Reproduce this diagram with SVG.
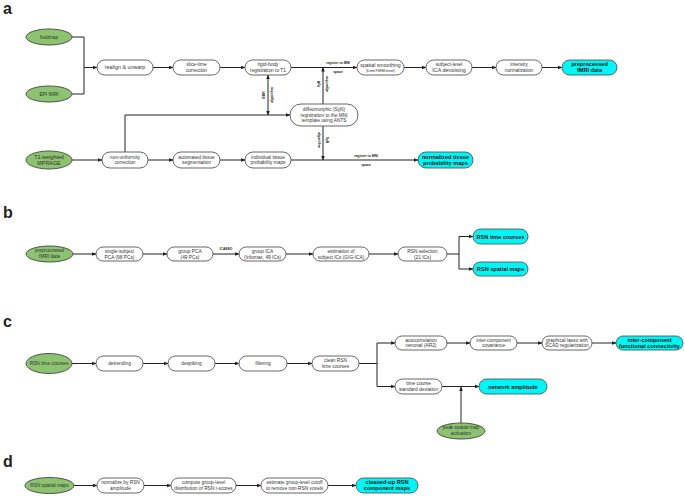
<svg xmlns="http://www.w3.org/2000/svg" width="685" height="500" viewBox="0 0 685 500">
<defs>
<style>
.bg{fill:#fff}
.box{fill:#fff;stroke:#555;stroke-width:0.9}
.out{fill:#00f6f6;stroke:#555;stroke-width:0.9}
.src{fill:#8cc270;stroke:#444;stroke-width:0.9}
.t{font-family:"Liberation Sans",Arial,sans-serif;font-size:4.8px;fill:#333;text-anchor:middle}
.tb{font-family:"Liberation Sans",Arial,sans-serif;font-size:5.6px;font-weight:bold;fill:#111;text-anchor:middle}
.ts{font-family:"Liberation Sans",Arial,sans-serif;font-size:3.4px;fill:#222;text-anchor:middle}
.tl{font-family:"Liberation Sans",Arial,sans-serif;font-size:3.4px;font-weight:bold;fill:#222;text-anchor:middle}
.hd{font-family:"Liberation Sans",Arial,sans-serif;font-size:16px;font-weight:bold;fill:#222}
.c{fill:none;stroke:#222;stroke-width:1}
</style>
<marker id="ah" viewBox="0 0 10 10" refX="9" refY="5" markerWidth="4.5" markerHeight="4.5" orient="auto"><path d="M0,1 L10,5 L0,9 Z" fill="#222"/></marker>
<marker id="as" viewBox="0 0 10 10" refX="1" refY="5" markerWidth="4.5" markerHeight="4.5" orient="auto"><path d="M10,1 L0,5 L10,9 Z" fill="#222"/></marker>
</defs>
<rect class="bg" width="685" height="500"/>

<text class="hd" x="3" y="14">a</text>
<text class="hd" x="3" y="218">b</text>
<text class="hd" x="3" y="327">c</text>
<text class="hd" x="3" y="467">d</text>

<g id="connectors">
<!-- panel a -->
<path class="c" d="M72,37 H84 V94 H72"/>
<path class="c" d="M84,67.5 H97" marker-end="url(#ah)"/>
<path class="c" d="M153,67.5 H173" marker-end="url(#ah)"/>
<path class="c" d="M220,67.5 H245" marker-end="url(#ah)"/>
<path class="c" d="M291,67.5 H357" marker-end="url(#ah)"/>
<path class="c" d="M404,67.5 H426" marker-end="url(#ah)"/>
<path class="c" d="M472,67.5 H496" marker-end="url(#ah)"/>
<path class="c" d="M542,67.5 H562" marker-end="url(#ah)"/>
<path class="c" d="M72,160 H102" marker-end="url(#ah)"/>
<path class="c" d="M148,160 H173" marker-end="url(#ah)"/>
<path class="c" d="M220,160 H245" marker-end="url(#ah)"/>
<path class="c" d="M291,160 H418" marker-end="url(#ah)"/>
<path class="c" d="M125,152 V115 H290" marker-end="url(#ah)"/>
<path class="c" d="M268,75 V115" marker-start="url(#as)" marker-end="url(#ah)"/>
<path class="c" d="M323,104 V67.5" marker-end="url(#ah)"/>
<path class="c" d="M323,126 V160" marker-end="url(#ah)"/>
<!-- panel b -->
<path class="c" d="M73,254 H96" marker-end="url(#ah)"/>
<path class="c" d="M143,254 H167" marker-end="url(#ah)"/>
<path class="c" d="M213,254 H239" marker-end="url(#ah)"/>
<path class="c" d="M286,254 H313" marker-end="url(#ah)"/>
<path class="c" d="M369,254 H398" marker-end="url(#ah)"/>
<path class="c" d="M447,254 H459 M459,236.5 V269"/>
<path class="c" d="M459,236.5 H473" marker-end="url(#ah)"/>
<path class="c" d="M459,269 H473" marker-end="url(#ah)"/>
<!-- panel c -->
<path class="c" d="M72,363.5 H96" marker-end="url(#ah)"/>
<path class="c" d="M143,363.5 H168" marker-end="url(#ah)"/>
<path class="c" d="M215,363.5 H239" marker-end="url(#ah)"/>
<path class="c" d="M287,363.5 H312" marker-end="url(#ah)"/>
<path class="c" d="M359,363.5 H377 M377,343 V386.5"/>
<path class="c" d="M377,343 H395" marker-end="url(#ah)"/>
<path class="c" d="M377,386.5 H395" marker-end="url(#ah)"/>
<path class="c" d="M447,343 H470" marker-end="url(#ah)"/>
<path class="c" d="M517,343 H542" marker-end="url(#ah)"/>
<path class="c" d="M592,343 H616" marker-end="url(#ah)"/>
<path class="c" d="M442,386.5 H479" marker-end="url(#ah)"/>
<path class="c" d="M461,423 V387" marker-end="url(#ah)"/>
<!-- panel d -->
<path class="c" d="M74,485.5 H97" marker-end="url(#ah)"/>
<path class="c" d="M144,485.5 H171" marker-end="url(#ah)"/>
<path class="c" d="M236,485.5 H261" marker-end="url(#ah)"/>
<path class="c" d="M328,485.5 H356" marker-end="url(#ah)"/>
</g>

<g id="connector-labels">
<text class="tl" x="338" y="64">register to MNI</text>
<text class="tl" x="338" y="73">space</text>
<text class="tl" x="366" y="157">register to MNI</text>
<text class="tl" x="366" y="166">space</text>
<text class="tl" transform="translate(265,95) rotate(-90)">BBR</text>
<text class="tl" transform="translate(273,95) rotate(-90)">algorithm</text>
<text class="tl" transform="translate(320,84) rotate(-90)">SyN</text>
<text class="tl" transform="translate(328,84) rotate(-90)">algorithm</text>
<text class="tl" transform="translate(318,140) rotate(90)">algorithm</text>
<text class="tl" transform="translate(326,140) rotate(90)">SyN</text>
<text class="tl" x="226" y="250">ICASSO</text>
</g>

<!-- panel a nodes -->
<g id="fieldmap"><ellipse class="src" cx="49" cy="37" rx="23" ry="8"/><text class="t" x="49" y="38.7">fieldmap</text></g>
<g id="epi-fmri"><ellipse class="src" cx="49" cy="94" rx="23" ry="8"/><text class="t" x="49" y="95.7">EPI fMRI</text></g>
<g id="t1-mprage"><ellipse class="src" cx="49" cy="160" rx="23" ry="9"/><text class="t" style="font-size:5.4px" x="49" y="158.5">T1-weighted</text><text class="t" style="font-size:5.4px" x="49" y="164.8">MPRAGE</text></g>
<g id="realign"><rect class="box" x="97" y="60" width="56" height="15" rx="7.5"/><text class="t" style="font-size:5.4px" x="125" y="69.4">realign &amp; unwarp</text></g>
<g id="slice-time"><rect class="box" x="173" y="60" width="47" height="15" rx="7.5"/><text class="t" x="196.5" y="66.3">slice-time</text><text class="t" x="196.5" y="72">correction</text></g>
<g id="rigid-body"><rect class="box" x="245" y="60" width="46" height="15" rx="7.5"/><text class="t" x="268" y="66.3">rigid-body</text><text class="t" x="268" y="72">registration to T1</text></g>
<g id="spatial-smoothing"><rect class="box" x="357" y="60" width="47" height="15" rx="7.5"/><text class="t" style="font-size:5.2px" x="380.5" y="67">spatial smoothing</text><text class="ts" style="font-size:3px" x="380.5" y="71.8">(6-mm FWHM kernel)</text></g>
<g id="ica-denoising"><rect class="box" x="426" y="60" width="46" height="15" rx="7.5"/><text class="t" x="449" y="66.3">subject-level</text><text class="t" style="font-size:5.4px" x="449" y="72.3">ICA denoising</text></g>
<g id="intensity"><rect class="box" x="496" y="60" width="46" height="15" rx="7.5"/><text class="t" x="519" y="66.3">intensity</text><text class="t" x="519" y="72">normalization</text></g>
<g id="preprocessed-fmri"><rect class="out" x="562" y="60" width="55" height="15" rx="7.5"/><text class="tb" x="589.5" y="66.3">preprocessed</text><text class="tb" x="589.5" y="72.4">fMRI data</text></g>
<g id="diffeomorphic"><rect class="box" x="290" y="104" width="68" height="22" rx="11"/><text class="t" x="324" y="111">diffeomorphic (SyN)</text><text class="t" x="324" y="116.6">registration to the MNI</text><text class="t" x="324" y="122.2">template using ANTS</text></g>
<g id="non-uniformity"><rect class="box" x="102" y="152" width="46" height="16" rx="8"/><text class="t" x="125" y="158.6">non-uniformity</text><text class="t" x="125" y="164.4">correction</text></g>
<g id="tissue-segmentation"><rect class="box" x="173" y="152" width="47" height="16" rx="8"/><text class="t" x="196.5" y="158.6">automated tissue</text><text class="t" x="196.5" y="164.4">segmentation</text></g>
<g id="tissue-probability"><rect class="box" x="245" y="152" width="46" height="16" rx="8"/><text class="t" x="268" y="158.6">individual tissue</text><text class="t" x="268" y="164.4">probability maps</text></g>
<g id="normalized-tissue"><rect class="out" x="418" y="152" width="55" height="16" rx="8"/><text class="tb" x="445.5" y="158.8">normalized tissue</text><text class="tb" x="445.5" y="165">probability maps</text></g>

<!-- panel b nodes -->
<g id="b-preprocessed"><ellipse class="src" cx="49.5" cy="254" rx="23.5" ry="8"/><text class="t" x="49.5" y="252.4">preprocessed</text><text class="t" x="49.5" y="258">fMRI data</text></g>
<g id="single-subject-pca"><rect class="box" x="96" y="247" width="47" height="14" rx="7"/><text class="t" x="119.5" y="253">single-subject</text><text class="t" x="119.5" y="258.6">PCA (98 PCs)</text></g>
<g id="group-pca"><rect class="box" x="167" y="247" width="46" height="14" rx="7"/><text class="t" x="190" y="253">group PCA</text><text class="t" x="190" y="258.6">(49 PCs)</text></g>
<g id="group-ica"><rect class="box" x="239" y="247" width="47" height="14" rx="7"/><text class="t" x="262.5" y="253">group ICA</text><text class="t" x="262.5" y="258.6">(Infomax, 49 ICs)</text></g>
<g id="subject-ics"><rect class="box" x="313" y="247" width="56" height="14" rx="7"/><text class="t" x="341" y="253">estimation of</text><text class="t" x="341" y="258.6">subject ICs (GIG-ICA)</text></g>
<g id="rsn-selection"><rect class="box" x="398" y="247" width="49" height="14" rx="7"/><text class="t" x="422.5" y="253">RSN selection</text><text class="t" x="422.5" y="258.6">(21 ICs)</text></g>
<g id="b-rsn-time"><rect class="out" x="473" y="229" width="55" height="15" rx="7.5"/><text class="tb" x="500.5" y="238.5">RSN time courses</text></g>
<g id="b-rsn-spatial"><rect class="out" x="473" y="262" width="55" height="14" rx="7"/><text class="tb" x="500.5" y="271">RSN spatial maps</text></g>

<!-- panel c nodes -->
<g id="c-rsn-time"><ellipse class="src" cx="49" cy="363.5" rx="23" ry="10"/><text class="t" x="49" y="365.2">RSN time courses</text></g>
<g id="detrending"><rect class="box" x="96" y="356" width="47" height="15" rx="7.5"/><text class="t" x="119.5" y="365.2">detrending</text></g>
<g id="despiking"><rect class="box" x="168" y="356" width="47" height="15" rx="7.5"/><text class="t" x="191.5" y="365.2">despiking</text></g>
<g id="filtering"><rect class="box" x="239" y="356" width="48" height="15" rx="7.5"/><text class="t" x="263" y="365.2">filtering</text></g>
<g id="clean-rsn"><rect class="box" x="312" y="356" width="47" height="15" rx="7.5"/><text class="t" x="335.5" y="362.3">clean RSN</text><text class="t" x="335.5" y="368">time courses</text></g>
<g id="autocorrelation"><rect class="box" x="395" y="336" width="52" height="14" rx="7"/><text class="t" x="421" y="341.8">autocorrelation</text><text class="t" x="421" y="347.4">removal (AR2)</text></g>
<g id="covariance"><rect class="box" x="470" y="336" width="47" height="14" rx="7"/><text class="t" x="493.5" y="341.8">inter-component</text><text class="t" x="493.5" y="347.4">covariance</text></g>
<g id="graphical-lasso"><rect class="box" x="542" y="336" width="50" height="14" rx="7"/><text class="t" x="567" y="341.8">graphical lasso with</text><text class="t" x="567" y="347.4">SCAD regularization</text></g>
<g id="functional-connectivity"><rect class="out" x="616" y="336" width="67" height="14" rx="7"/><text class="tb" x="649.5" y="341.8">inter-component</text><text class="tb" x="649.5" y="347.8">functional connectivity</text></g>
<g id="time-course-sd"><rect class="box" x="395" y="379" width="47" height="15" rx="7.5"/><text class="t" x="418.5" y="385.3">time course</text><text class="t" x="418.5" y="391">standard deviation</text></g>
<g id="network-amplitude"><rect class="out" x="479" y="379" width="68" height="15" rx="7.5"/><text class="tb" x="513" y="388.5">network amplitude</text></g>
<g id="peak-spatial"><ellipse class="src" cx="461" cy="431" rx="24" ry="8"/><text class="t" x="461" y="429.4">peak spatial map</text><text class="t" x="461" y="435">activation</text></g>

<!-- panel d nodes -->
<g id="d-rsn-spatial"><ellipse class="src" cx="49.5" cy="485.5" rx="24.5" ry="8"/><text class="t" x="49.5" y="487.2">RSN spatial maps</text></g>
<g id="normalize"><rect class="box" x="97" y="478" width="47" height="15" rx="7.5"/><text class="t" x="120.5" y="484.3">normalize by RSN</text><text class="t" x="120.5" y="490">amplitude</text></g>
<g id="group-distribution"><rect class="box" x="171" y="478" width="65" height="15" rx="7.5"/><text class="t" x="203.5" y="484.3">compute group-level</text><text class="t" x="203.5" y="490">distribution of RSN t-scores</text></g>
<g id="cutoff"><rect class="box" x="261" y="478" width="67" height="15" rx="7.5"/><text class="t" x="294.5" y="484.3">estimate group-level cutoff</text><text class="t" x="294.5" y="490">to remove non-RSN voxels</text></g>
<g id="cleaned-up"><rect class="out" x="356" y="478" width="62" height="15" rx="7.5"/><text class="tb" x="387" y="484.3">cleaned-up RSN</text><text class="tb" x="387" y="490.4">component maps</text></g>
</svg>
